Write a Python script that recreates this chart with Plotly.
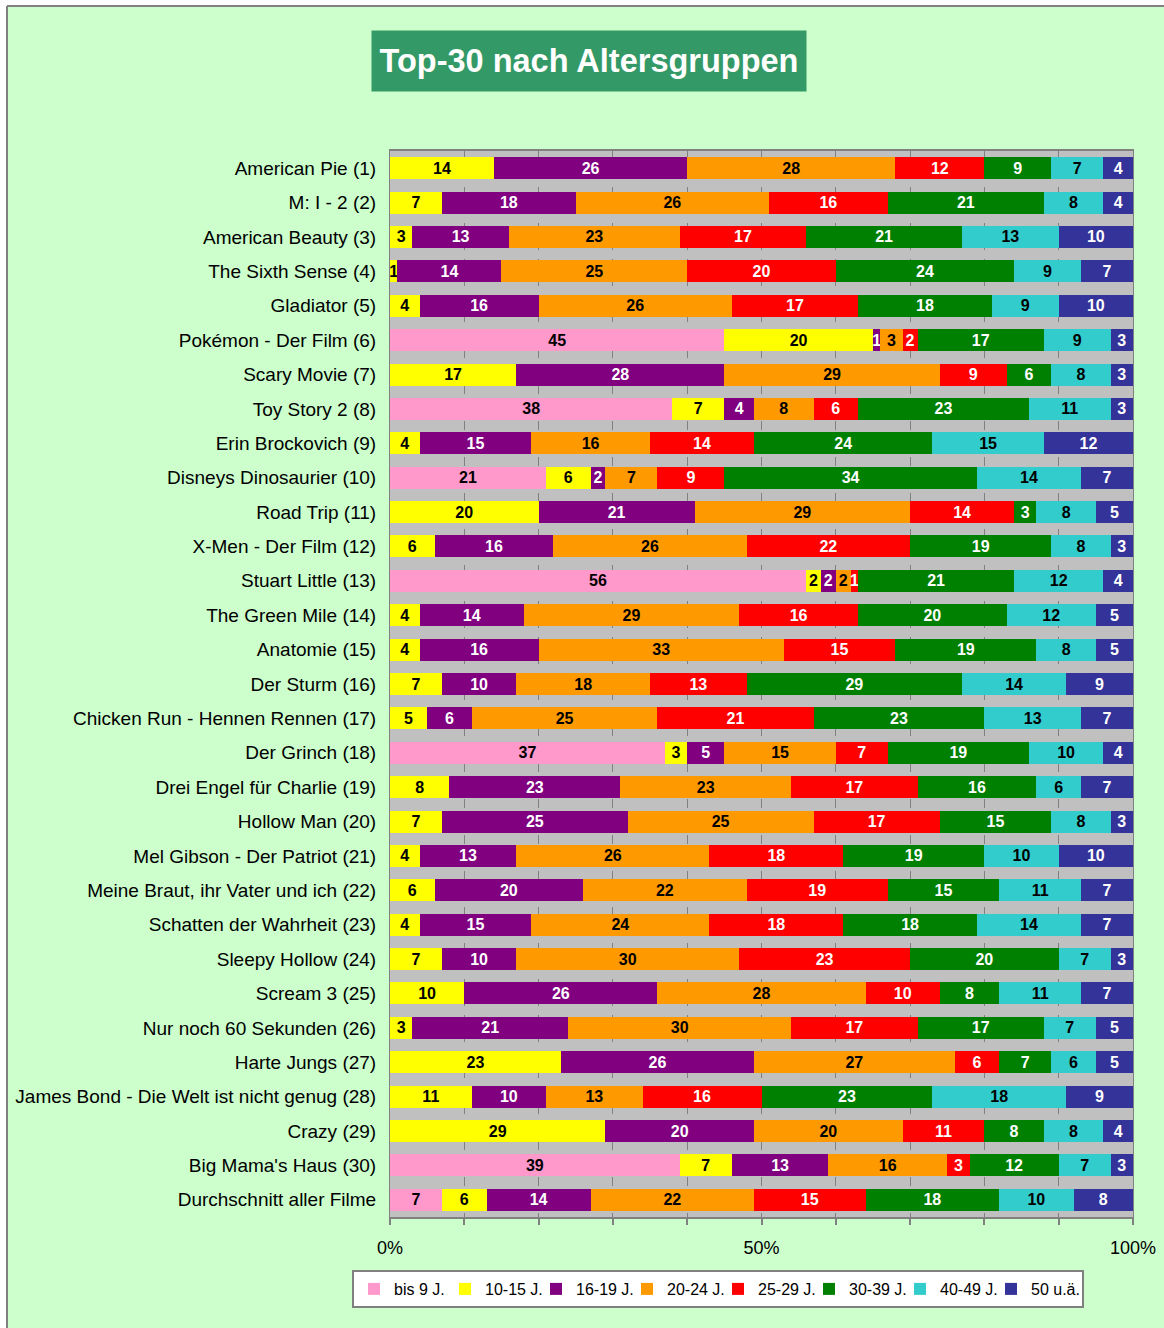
import plotly.graph_objects as go

films = [
    "American Pie (1)", "M: I - 2 (2)", "American Beauty (3)", "The Sixth Sense (4)",
    "Gladiator (5)", "Pokémon - Der Film (6)", "Scary Movie (7)", "Toy Story 2 (8)",
    "Erin Brockovich (9)", "Disneys Dinosaurier (10)", "Road Trip (11)", "X-Men - Der Film (12)",
    "Stuart Little (13)", "The Green Mile (14)", "Anatomie (15)", "Der Sturm (16)",
    "Chicken Run - Hennen Rennen (17)", "Der Grinch (18)", "Drei Engel für Charlie (19)",
    "Hollow Man (20)", "Mel Gibson - Der Patriot (21)", "Meine Braut, ihr Vater und ich (22)",
    "Schatten der Wahrheit (23)", "Sleepy Hollow (24)", "Scream 3 (25)",
    "Nur noch 60 Sekunden (26)", "Harte Jungs (27)", "James Bond - Die Welt ist nicht genug (28)",
    "Crazy (29)", "Big Mama's Haus (30)", "Durchschnitt aller Filme",
]

groups = ["bis 9 J.", "10-15 J.", "16-19 J.", "20-24 J.", "25-29 J.", "30-39 J.", "40-49 J.", "50 u.ä."]

bis9   = [0, 0, 0, 0, 0, 45, 0, 38, 0, 21, 0, 0, 56, 0, 0, 0, 0, 37, 0, 0, 0, 0, 0, 0, 0, 0, 0, 0, 0, 39, 7]
j10_15 = [14, 7, 3, 1, 4, 20, 17, 7, 4, 6, 20, 6, 2, 4, 4, 7, 5, 3, 8, 7, 4, 6, 4, 7, 10, 3, 23, 11, 29, 7, 6]
j16_19 = [26, 18, 13, 14, 16, 1, 28, 4, 15, 2, 21, 16, 2, 14, 16, 10, 6, 5, 23, 25, 13, 20, 15, 10, 26, 21, 26, 10, 20, 13, 14]
j20_24 = [28, 26, 23, 25, 26, 3, 29, 8, 16, 7, 29, 26, 2, 29, 33, 18, 25, 15, 23, 25, 26, 22, 24, 30, 28, 30, 27, 13, 20, 16, 22]
j25_29 = [12, 16, 17, 20, 17, 2, 9, 6, 14, 9, 14, 22, 1, 16, 15, 13, 21, 7, 17, 17, 18, 19, 18, 23, 10, 17, 6, 16, 11, 3, 15]
j30_39 = [9, 21, 21, 24, 18, 17, 6, 23, 24, 34, 3, 19, 21, 20, 19, 29, 23, 19, 16, 15, 19, 15, 18, 20, 8, 17, 7, 23, 8, 12, 18]
j40_49 = [7, 8, 13, 9, 9, 9, 8, 11, 15, 14, 8, 8, 12, 12, 8, 14, 13, 10, 6, 8, 10, 11, 14, 7, 11, 7, 6, 18, 8, 7, 10]
j50    = [4, 4, 10, 7, 10, 3, 3, 3, 12, 7, 5, 3, 4, 5, 5, 9, 7, 4, 7, 3, 10, 7, 7, 3, 7, 5, 5, 9, 4, 3, 8]

series = [bis9, j10_15, j16_19, j20_24, j25_29, j30_39, j40_49, j50]
colors = ["#FF99CC", "#FFFF00", "#800080", "#FF9900", "#FF0000", "#008000", "#33CCCC", "#333399"]
text_colors = ["black", "black", "white", "black", "white", "white", "black", "white"]

x_ticks = [0, 10, 20, 30, 40, 50, 60, 70, 80, 90, 100]
x_ticktext = ["0%", "", "", "", "", "50%", "", "", "", "", "100%"]

# layout geometry (pixels)
W, H = 1164, 1328
ML, MR, MT, MB = 390, 31, 151, 111
PW, PH = W - ML - MR, H - MT - MB


def px2x(px):
    return (px - ML) / PW


def py2y(py):
    return 1 - (py - MT) / PH


FONT = "Liberation Sans, Arial, sans-serif"

fig = go.Figure()
for name, vals, col, tcol in zip(groups, series, colors, text_colors):
    fig.add_trace(go.Bar(
        name=name,
        y=films,
        x=vals,
        orientation="h",
        marker=dict(color=col, line=dict(width=0)),
        text=[str(v) if v > 0 else "" for v in vals],
        textposition="inside",
        insidetextanchor="middle",
        textangle=0,
        constraintext="none",
        textfont=dict(family=FONT, size=16, color=tcol, weight="bold"),
        hoverinfo="name+x+y",
    ))

shapes = [
    dict(type="rect", xref="paper", yref="paper", x0=px2x(-5), x1=px2x(7), y0=py2y(H + 5), y1=py2y(-5),
         fillcolor="white", line=dict(width=0), layer="above"),
    dict(type="rect", xref="paper", yref="paper", x0=px2x(-5), x1=px2x(W + 5), y0=py2y(6), y1=py2y(-5),
         fillcolor="white", line=dict(width=0), layer="above"),
    dict(type="line", xref="paper", yref="paper", x0=px2x(7), x1=px2x(7), y0=py2y(H + 5), y1=py2y(6),
         line=dict(color="#808080", width=2), layer="above"),
    dict(type="line", xref="paper", yref="paper", x0=px2x(7), x1=px2x(W + 5), y0=py2y(6), y1=py2y(6),
         line=dict(color="#808080", width=2), layer="above"),
]

fig.update_layout(
    width=W, height=H,
    barmode="stack",
    barnorm="percent",
    bargap=0.36,
    paper_bgcolor="#CCFFCC",
    plot_bgcolor="#C0C0C0",
    margin=dict(l=ML, r=MR, t=MT, b=MB, autoexpand=False),
    font=dict(family=FONT, color="black"),
    uniformtext=dict(mode="show", minsize=16),
    shapes=shapes,
    annotations=[dict(
        text="<b>Top-30 nach Altersgruppen</b>",
        xref="paper", yref="paper",
        x=px2x(589), y=py2y(61), xanchor="center", yanchor="middle",
        showarrow=False,
        width=432, height=58,
        bgcolor="#339966",
        font=dict(family=FONT, size=32.5, color="white"),
    )],
    legend=dict(
        orientation="h",
        x=px2x(718), xanchor="center",
        y=py2y(1270), yanchor="top",
        bgcolor="white",
        bordercolor="#808080", borderwidth=2,
        font=dict(family=FONT, size=16, color="black"),
        traceorder="normal",
        entrywidth=46,
        itemclick=False,
    ),
    xaxis=dict(
        range=[0, 100],
        tickvals=x_ticks, ticktext=x_ticktext,
        showgrid=True, gridcolor="#808080", griddash="dash", gridwidth=1,
        zeroline=False,
        ticks="outside", ticklen=6, tickcolor="#808080", tickwidth=2,
        showline=True, linecolor="#808080", linewidth=2, mirror=True,
        ticklabelstandoff=7,
        tickfont=dict(size=18, color="black"),
        fixedrange=True,
    ),
    yaxis=dict(
        autorange="reversed",
        showgrid=False,
        ticks="",
        showline=True, linecolor="#808080", linewidth=1, mirror=True,
        ticklabelstandoff=9,
        tickfont=dict(size=19, color="black"),
        fixedrange=True,
    ),
)

fig.write_html(
    "out.html",
    config={"displayModeBar": False},
    post_script="document.body.style.margin='0';document.body.style.padding='0';",
)
